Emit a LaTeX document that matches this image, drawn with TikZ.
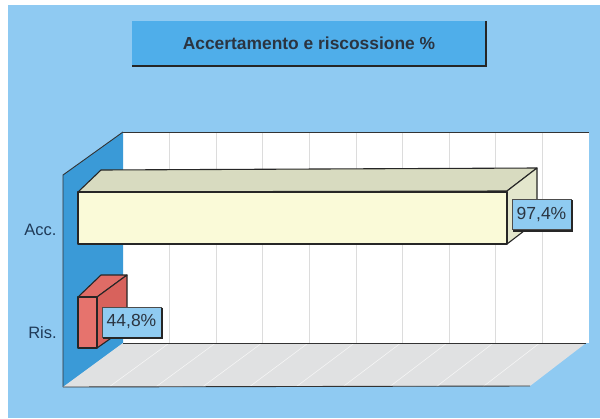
\documentclass[tikz,border=0pt]{standalone}
\usepackage{fontspec}
\setmainfont{Liberation Sans}
\definecolor{bgblue}{HTML}{8FCAF2}
\definecolor{titleblue}{HTML}{4FAEEA}
\definecolor{wallblue}{HTML}{3A9AD7}
\definecolor{floorgray}{HTML}{E0E1E2}
\definecolor{gridgray}{HTML}{DCDCDC}
\definecolor{accfront}{HTML}{FAFAD8}
\definecolor{acctop}{HTML}{D8DBC0}
\definecolor{accside}{HTML}{E3E6CC}
\definecolor{risfront}{HTML}{E6736D}
\definecolor{risside}{HTML}{D8625C}
\definecolor{ristop}{HTML}{DF6C66}
\definecolor{labelblue}{HTML}{8FCBF1}
\definecolor{txtdark}{HTML}{2B3440}
\definecolor{axistxt}{HTML}{1F3A58}
\begin{document}
\begin{tikzpicture}[x=1pt,y=-1pt,
  edge/.style={draw=black!80,line width=0.9pt},
  baredge/.style={draw=black!85,line width=1.1pt,line join=round},
  titlebox/.style={fill=titleblue,minimum width=354pt,minimum height=45pt,inner sep=0pt,
    font=\bfseries\fontsize{17.4}{20}\selectfont,text=txtdark},
  vallabel/.style={fill=labelblue,draw=black!70,line width=0.6pt,inner sep=0pt,
    minimum width=59pt,minimum height=30pt,font=\fontsize{17.5}{20}\selectfont,text=txtdark},
  axislabel/.style={inner sep=0pt,font=\fontsize{16.5}{19}\selectfont,text=axistxt},
  shadowline/.style={draw=black!85,line width=1.8pt}]
\useasboundingbox (0,0) rectangle (600,418);
\fill[white] (0,0) rectangle (600,418);
\fill[bgblue] (8,5) rectangle (600,418);
% back wall
\fill[white] (123,132) rectangle (589,343);
\foreach \i in {1,...,9} \draw[gridgray,line width=0.8pt] ({123+46.6*\i},132) -- ({123+46.6*\i},343);
\draw[edge] (123,132) -- (589,132);
% left wall
\fill[wallblue] (63,175) -- (123,132) -- (123,343) -- (63,387) -- cycle;
\draw[edge] (63,387) -- (63,175) -- (123,132);
% floor
\fill[floorgray] (63,387) -- (123,343) -- (586,343) -- (530,386) -- cycle;
\foreach \i in {1,...,9} \draw[black!4,line width=0.6pt] ({123+46.3*\i},343) -- ({63+46.7*\i},386.5);
\draw[edge] (123,343) -- (586,343);
\draw[edge] (63,387) -- (530,386);
% Acc bar
\filldraw[fill=acctop,baredge] (78,192) -- (101,170) -- (537,168) -- (507,191) -- cycle;
\filldraw[fill=accside,baredge] (507,191) -- (537,168) -- (537,221) -- (507,244) -- cycle;
\filldraw[fill=accfront,baredge] (78,192) rectangle (507,244);
% Ris bar
\filldraw[fill=ristop,baredge] (78,297) -- (101,275) -- (127,275) -- (97,297) -- cycle;
\filldraw[fill=risside,baredge] (97,297) -- (127,275) -- (127,327) -- (97,348) -- cycle;
\filldraw[fill=risfront,baredge] (78,297) rectangle (97,348);
% value labels
\node[vallabel] (vacc) at (541.5,214.5) {97,4\%};
\draw[shadowline] ([xshift=1pt,yshift=-1pt]vacc.north east) -- ([xshift=1pt,yshift=-1pt]vacc.south east) -- ([xshift=1pt,yshift=-1pt]vacc.south west);
\node[vallabel] (vris) at (131.5,322) {44,8\%};
\draw[shadowline] ([xshift=1pt,yshift=-1pt]vris.north east) -- ([xshift=1pt,yshift=-1pt]vris.south east) -- ([xshift=1pt,yshift=-1pt]vris.south west);
% axis labels
\node[axislabel] (acc) at (40.5,230) {Acc.};
\node[axislabel] (ris) at (42.5,333) {Ris.};
% title
\node[titlebox] (title) at (309,43.5) {Accertamento e riscossione \%};
\draw[shadowline,line width=2.2pt] (title.north east) -- (title.south east) -- (title.south west);
\end{tikzpicture}
\end{document}
